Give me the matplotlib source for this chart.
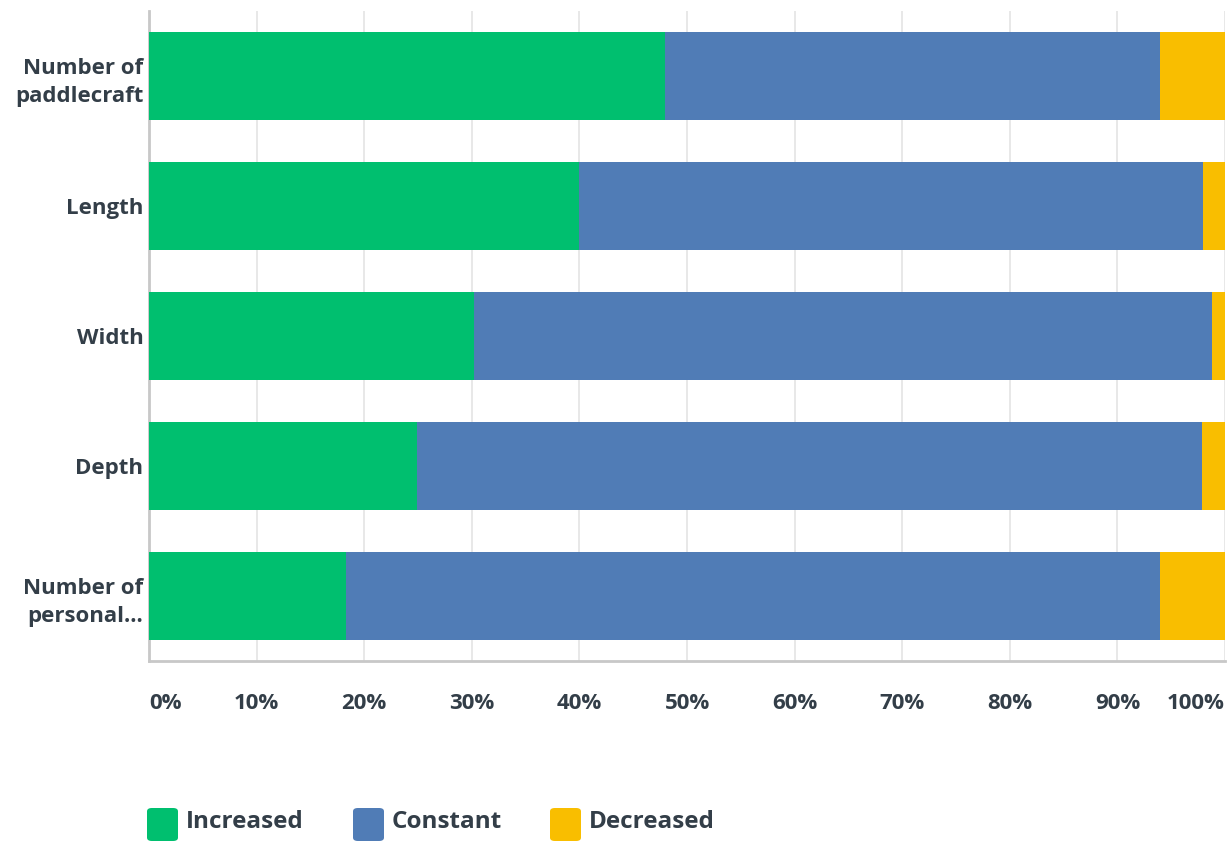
import matplotlib
matplotlib.use("Agg")
import matplotlib.pyplot as plt
from matplotlib.patches import FancyBboxPatch
import numpy as np

# Survey responses (percent of respondents)
categories = ["Number of\npaddlecraft", "Length", "Width", "Depth", "Number of\npersonal..."]
series_names = ["Increased", "Constant", "Decreased"]
increased = [48.0, 40.0, 30.2, 24.9, 18.3]
constant = [46.0, 58.0, 68.6, 73.0, 75.7]
decreased = [6.0, 2.0, 1.2, 2.1, 6.0]
series_values = [increased, constant, decreased]
colors = ["#00bf6f", "#507cb6", "#f9be00"]
xticks = list(range(0, 101, 10))
xtick_labels = [f"{t}%" for t in xticks]

TEXT = "#333e48"
FONT = "Open Sans"

W, H = 1229, 842
fig = plt.figure(figsize=(W / 100, H / 100), dpi=100)
ax = fig.add_axes([149 / W, 1 - 661 / H, (1225 - 149) / W, 650 / H])

y = np.arange(len(categories))
left = np.zeros(len(categories))
for name, vals, c in zip(series_names, series_values, colors):
    ax.barh(y, vals, left=left, height=0.67, color=c, label=name, zorder=3)
    left += np.array(vals)

ax.set_xlim(0, 100)
ax.set_ylim(len(categories) - 0.5, -0.5)
ax.set_yticks(y)
ax.set_yticklabels(categories, fontfamily=FONT, fontweight="bold",
                   fontsize=16, color=TEXT, linespacing=1.45)
ax.set_xticks(xticks)
ax.set_xticklabels(xtick_labels, fontfamily=FONT, fontweight="bold",
                   fontsize=16, color=TEXT)
labels = ax.get_xticklabels()
labels[0].set_horizontalalignment("left")
labels[-1].set_horizontalalignment("right")
ax.tick_params(axis="both", length=0)
ax.tick_params(axis="x", pad=23)
ax.tick_params(axis="y", pad=4)

ax.grid(axis="x", color="#e4e4e4", linewidth=1.2, zorder=0)
ax.set_axisbelow(True)
for s in ["top", "right"]:
    ax.spines[s].set_visible(False)
for s in ["left", "bottom"]:
    ax.spines[s].set_color("#c8c8c8")
    ax.spines[s].set_linewidth(2)

# Legend row along the bottom
legend_x = [147, 353, 550]
for name, c, lx in zip(series_names, colors, legend_x):
    sq = FancyBboxPatch((lx / W, 1 - 841 / H), 31 / W, 33 / H,
                        boxstyle="round,pad=0,rounding_size=0.004",
                        transform=fig.transFigure, facecolor=c,
                        edgecolor="none")
    fig.patches.append(sq)
    fig.text((lx + 39) / W, 1 - 822 / H, name, fontfamily=FONT,
             fontweight="bold", fontsize=17.5, color=TEXT,
             ha="left", va="center")

fig.savefig("out.png", dpi=100, facecolor="white")
